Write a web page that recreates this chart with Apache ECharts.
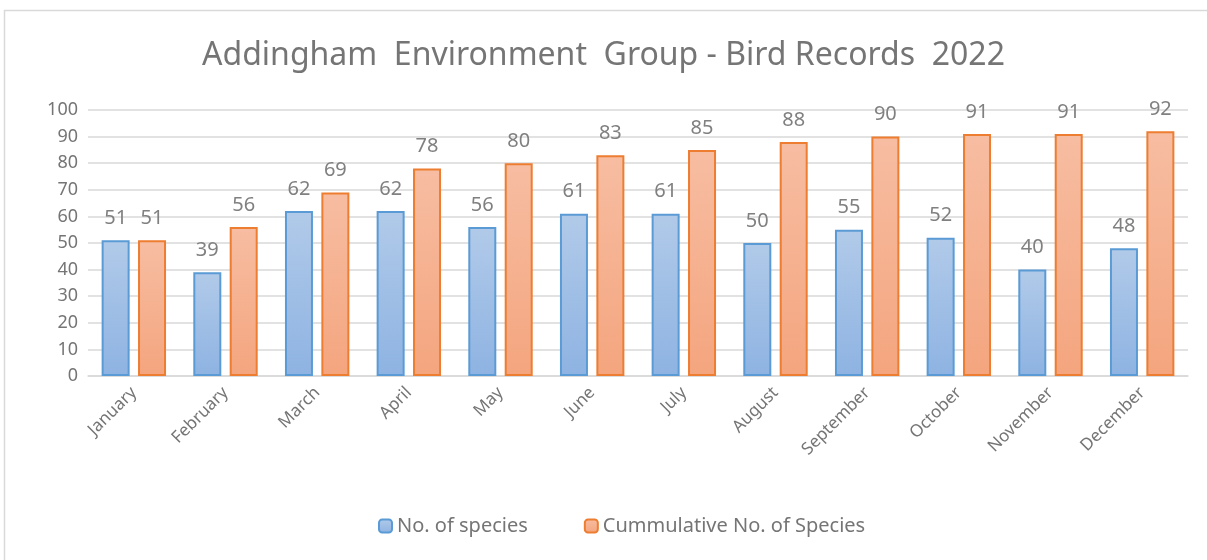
<!DOCTYPE html>
<html>
<head>
<meta charset="utf-8">
<script src="https://cdn.jsdelivr.net/npm/echarts@6/dist/echarts.min.js"></script>
<style>
  html, body { margin: 0; padding: 0; background: #fff; }
  #chart { width: 1207px; height: 560px; }
</style>
</head>
<body>
<div id="chart"></div>
<script>
// 月份
const months = ["January", "February", "March", "April", "May", "June",
  "July", "August", "September", "October", "November", "December"];
// 每月鸟种数
const species = [51, 39, 62, 62, 56, 61, 61, 50, 55, 52, 40, 48];
// 累计鸟种数
const cumulative = [51, 56, 69, 78, 80, 83, 85, 88, 90, 91, 91, 92];

const font = "'Noto Sans', 'Open Sans', sans-serif";

let chart = echarts.init(document.getElementById("chart"));

function grad(top, bottom) {
  return new echarts.graphic.LinearGradient(0, 0, 0, 1, [
    { offset: 0, color: top },
    { offset: 1, color: bottom },
  ]);
}

let option = {
  backgroundColor: "#fff",
  textStyle: { fontFamily: font },
  // 外边框
  graphic: [{
    type: "rect",
    shape: { x: 4.5, y: 10.5, width: 1240, height: 600 },
    style: { fill: "none", stroke: "#d9d9d9", lineWidth: 1.5 },
    silent: true,
  }],
  title: {
    text: "Addingham  Environment  Group - Bird Records  2022",
    left: "center",
    top: 35,
    textStyle: { color: "#757575", fontSize: 32, fontWeight: "normal", fontFamily: font },
  },
  legend: {
    bottom: 19,
    left: 373,
    itemWidth: 13,
    itemHeight: 13,
    itemGap: 56,
    textStyle: { color: "#757575", fontSize: 20, fontFamily: font },
    data: ["No. of species", "Cummulative No. of Species"],
  },
  grid: { left: 88, right: 19, top: 110, bottom: 184 },
  xAxis: {
    type: "category",
    data: months,
    axisLine: { lineStyle: { color: "#d9d9d9", width: 1.5 } },
    axisTick: { show: false },
    axisLabel: { rotate: 45, color: "#757575", fontSize: 17, margin: 14, fontFamily: font },
  },
  yAxis: {
    type: "value",
    min: 0,
    max: 100,
    interval: 10,
    axisLine: { show: false },
    axisTick: { show: false },
    axisLabel: { color: "#757575", fontSize: 18, margin: 10, fontFamily: font },
    splitLine: { lineStyle: { color: "#d9d9d9", width: 1.5 } },
  },
  series: [
    {
      name: "No. of species",
      type: "bar",
      data: species,
      barWidth: 28,
      barGap: "30%",
      itemStyle: { color: grad("#b1cae9", "#8eb3e2"), borderColor: "#5b9bd5", borderWidth: 2 },
      label: { show: true, position: "top", distance: 12, color: "#808080", fontSize: 20, fontFamily: font },
    },
    {
      name: "Cummulative No. of Species",
      type: "bar",
      data: cumulative,
      barWidth: 28,
      itemStyle: { color: grad("#f7bda2", "#f4a57e"), borderColor: "#ed7d31", borderWidth: 2 },
      label: { show: true, position: "top", distance: 12, color: "#808080", fontSize: 20, fontFamily: font },
    },
  ],
};
chart.setOption(option);
</script>
</body>
</html>
